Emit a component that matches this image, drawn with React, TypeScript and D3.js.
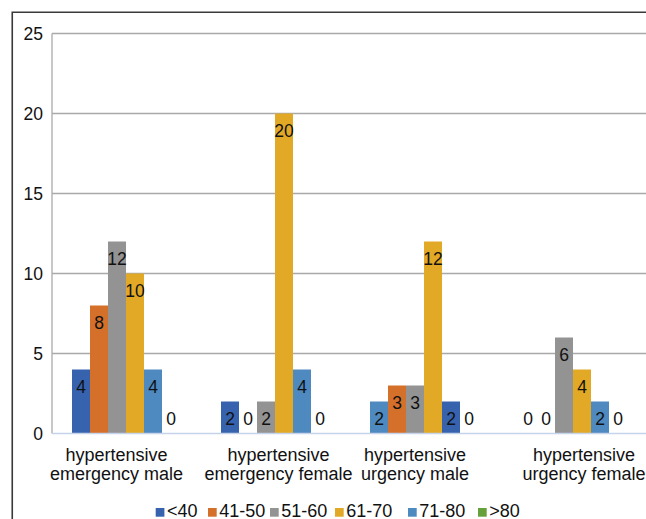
import React from "react";
import * as d3 from "d3";

const categories = [
  "hypertensive emergency male",
  "hypertensive emergency female",
  "hypertensive urgency male",
  "hypertensive urgency female",
];
const ageGroups = ["<40", "41-50", "51-60", "61-70", "71-80", ">80"];

// values by bar position within each category
const lt40 = [4, 2, 2, 0];
const a41_50 = [8, 0, 3, 0];
const a51_60 = [12, 2, 3, 6];
const a61_70 = [10, 20, 12, 4];
const a71_80 = [4, 4, 2, 2];
const gt80 = [0, 0, 0, 0];
const seriesValues = [lt40, a41_50, a51_60, a61_70, a71_80, gt80];

const yTicks = [0, 5, 10, 15, 20, 25];

// colour index of each bar position, per category (the third group has swapped blues in the original)
const colorOrder = [
  [0, 1, 2, 3, 4, 5],
  [0, 1, 2, 3, 4, 5],
  [4, 1, 2, 3, 0, 5],
  [0, 1, 2, 3, 4, 5],
];

const palette = ["#3763ae", "#d5702b", "#939393", "#e1a926", "#4e89c0", "#65a03a"];
const labelShift = [-9.5, 3.5, -9, 11];
const legendX = [155.7, 208, 270, 335, 408, 478];
const FONT = "'Liberation Sans', Arial, sans-serif";

export default function App() {
  const W = 646, H = 519;
  const x = d3.scaleBand<string>().domain(categories).range([51.5, 647.5]).padding(0);
  const xi = d3.scaleBand<string>().domain(ageGroups).range([20.5, 128.5]).padding(0);
  const y = d3.scaleLinear().domain([0, 25]).range([433.5, 33.5]);
  const y0 = y(0);

  return (
    <svg width={W} height={H} style={{ position: "absolute", left: 0, top: 0, background: "#fff" }} fontFamily={FONT}>
      <rect x={0} y={0} width={W} height={H} fill="#fff" />
      <path d={`M12.25,${H} V12.25 H${W}`} fill="none" stroke="#3a3a3a" strokeWidth={1.6} />
      {yTicks.filter(t => t > 0).map(t => (
        <line key={t} x1={52} x2={W} y1={y(t)} y2={y(t)} stroke="#a9a9a9" strokeWidth={1.3} />
      ))}
      <line x1={52} x2={52} y1={y(25)} y2={y0} stroke="#a9a9a9" strokeWidth={1.3} />
      {yTicks.map(t => (
        <text key={t} x={43} y={y(t) + 6} textAnchor="end" fontSize={17.5} fill="#111">{t}</text>
      ))}
      {categories.map((c, ci) => (
        <g key={c} transform={`translate(${x(c)},0)`}>
          {ageGroups.map((g, si) => {
            const v = seriesValues[si][ci];
            const bx = xi(g)!;
            const bw = xi.bandwidth();
            return v > 0 ? (
              <rect key={g} x={bx} y={y(v)} width={bw} height={y0 - y(v)} fill={palette[colorOrder[ci][si]]} />
            ) : null;
          })}
          {ageGroups.map((g, si) => {
            const v = seriesValues[si][ci];
            const cx = xi(g)! + xi.bandwidth() / 2;
            const by = Math.min(y(v) + 23, y0 - 8.5);
            return (
              <text key={g} x={cx} y={by} textAnchor="middle" fontSize={17.5} fill="#111">{v}</text>
            );
          })}
        </g>
      ))}
      <line x1={52} x2={W} y1={y0} y2={y0} stroke="#c6d4ea" strokeWidth={1.3} />
      {categories.map((c, ci) => {
        const words = c.split(" ");
        const cx = x(c)! + x.bandwidth() / 2 + labelShift[ci];
        return (
          <text key={c} x={cx} textAnchor="middle" fontSize={18} fill="#111">
            <tspan x={cx} y={460.5}>{words[0]}</tspan>
            <tspan x={cx} y={479.5}>{words.slice(1).join(" ")}</tspan>
          </text>
        );
      })}
      {ageGroups.map((g, i) => (
        <g key={g} transform={`translate(${legendX[i]},0)`}>
          <rect x={0} y={508} width={8.7} height={8.7} fill={palette[i]} />
          <text x={11.3} y={517} fontSize={18} fill="#111">{g}</text>
        </g>
      ))}
    </svg>
  );
}
